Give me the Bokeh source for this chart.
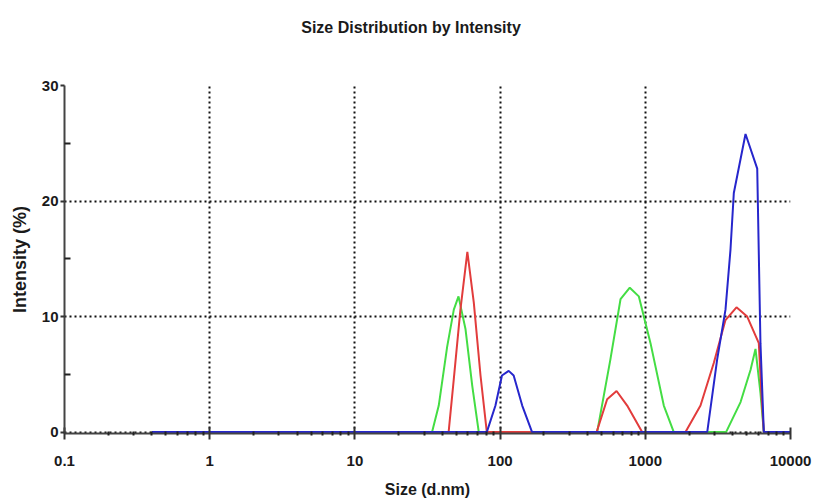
from bokeh.plotting import figure
from bokeh.models import FixedTicker, Range1d, Div
from bokeh.layouts import column
from bokeh.embed import file_html
from bokeh.resources import INLINE

# ---- data ----
title_text = "Size Distribution by Intensity"
x_ticks = [0.1, 1, 10, 100, 1000, 10000]
x_tick_labels = ["0.1", "1", "10", "100", "1000", "10000"]
y_ticks = [0, 10, 20, 30]
y_minor = [5, 15, 25]

green_size = [0.4, 34, 37.8, 43.2, 48, 51.7, 57.8, 64.3, 71.3,
              466, 575, 675, 782, 902, 1086, 1341, 1571,
              3600, 4530, 5310, 5740, 6210, 6550, 10000]
green_int = [0, 0, 2.3, 7.4, 10.6, 11.75, 8.9, 4.0, 0,
             0, 6.3, 11.5, 12.5, 11.75, 7.7, 2.3, 0,
             0, 2.6, 5.4, 7.2, 3.4, 0, 0]

red_size = [0.4, 44.2, 48, 53.3, 59.5, 65.9, 73.3, 81,
            462, 546, 634, 750, 951,
            1892, 2400, 2966, 3566, 4245, 5032, 6050, 6300, 6550, 10000]
red_int = [0, 0, 4.6, 10.6, 15.6, 11.2, 4.9, 0,
           0, 2.85, 3.56, 2.3, 0,
           0, 2.3, 6.0, 9.7, 10.8, 10.0, 7.7, 3.4, 0, 0]

blue_size = [0.4, 81, 92.9, 103, 114.6, 124, 142, 166,
             2670, 3126, 3567, 3861, 4070, 4900, 5900, 6210, 6550, 10000]
blue_int = [0, 0, 2.3, 4.9, 5.3, 4.9, 2.3, 0,
            0, 6.3, 10.6, 15.8, 20.7, 25.8, 22.8, 7.7, 0, 0]

FONT = "Liberation Sans"
TXT = "#1a1a1a"

header = Div(text=title_text, width=816, height=40, margin=0,
             styles={"font-family": FONT, "font-size": "16px",
                     "font-weight": "bold", "color": TXT,
                     "text-align": "center", "box-sizing": "border-box",
                     "padding-top": "19px", "padding-left": "6px",
                     "line-height": "18px", "overflow": "hidden",
                     "width": "816px", "background": "white"})

p = figure(width=816, height=464, x_axis_type="log",
           x_range=Range1d(0.1, 10000), y_range=Range1d(-0.12, 30),
           output_backend="svg", toolbar_location=None,
           min_border_left=64, min_border_right=26,
           min_border_top=45, min_border_bottom=71)
p.margin = 0

p.outline_line_color = None
p.background_fill_color = "white"
p.border_fill_color = "white"

minor_x = [k * 10.0 ** d for d in range(-1, 4) for k in range(2, 10)]
p.xaxis.ticker = FixedTicker(ticks=x_ticks, minor_ticks=minor_x)
p.xaxis.major_label_overrides = dict(zip(x_ticks, x_tick_labels))
p.yaxis.ticker = FixedTicker(ticks=y_ticks, minor_ticks=y_minor)

p.xgrid.ticker = FixedTicker(ticks=x_ticks)
p.ygrid.ticker = FixedTicker(ticks=y_ticks)
for g in (p.xgrid, p.ygrid):
    g.grid_line_color = "#111111"
    g.grid_line_width = 2
    g.grid_line_dash = "2 3"

for ax in (p.xaxis, p.yaxis):
    ax.axis_line_color = "#444444"
    ax.axis_line_width = 2
    ax.major_tick_line_color = "#333333"
    ax.major_tick_line_width = 2
    ax.minor_tick_line_color = "#222222"
    ax.minor_tick_line_width = 2
    ax.major_label_text_font = FONT
    ax.major_label_text_font_size = "15px"
    ax.major_label_text_font_style = "bold"
    ax.major_label_text_color = TXT
    ax.axis_label_text_font = FONT
    ax.axis_label_text_font_style = "bold"
    ax.axis_label_text_color = TXT

p.xaxis.axis_label = "Size (d.nm)"
p.yaxis.axis_label = "Intensity (%)"
p.xaxis.axis_label_text_font_size = "16px"
p.yaxis.axis_label_text_font_size = "18px"
p.xaxis.major_tick_in = 6
p.xaxis.major_tick_out = 6
p.xaxis.minor_tick_in = 2
p.xaxis.minor_tick_out = 2
p.xaxis.major_label_standoff = 16
p.xaxis.axis_label_standoff = 12
p.yaxis.major_tick_in = 0
p.yaxis.major_tick_out = 4
p.yaxis.minor_tick_in = 6
p.yaxis.minor_tick_out = 0
p.yaxis.major_label_standoff = 2
p.yaxis.axis_label_standoff = 9

p.line(green_size, green_int, line_color="#44dd44", line_width=2)
p.line(red_size, red_int, line_color="#e23c3c", line_width=2)
p.line(blue_size, blue_int, line_color="#2626cc", line_width=2)

layout = column(header, p, spacing=0, margin=0)
open("out.html", "w").write(file_html(layout, INLINE))
